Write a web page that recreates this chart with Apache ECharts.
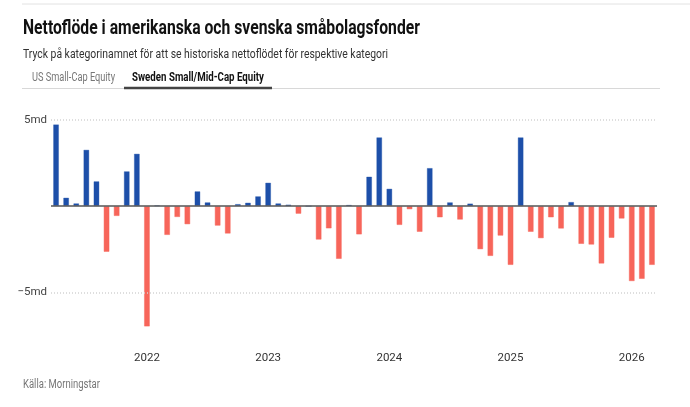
<!DOCTYPE html>
<html>
<head>
<meta charset="utf-8">
<script src="https://cdn.jsdelivr.net/npm/echarts@6/dist/echarts.min.js"></script>
<style>
  html, body { margin: 0; padding: 0; background: #fff; }
  #chart { width: 690px; height: 407px; }
</style>
</head>
<body>
<div id="chart"></div>
<script>
const FONT = 'Roboto, sans-serif'

// months Apr 2021 .. Mar 2026
const months = []
for (let y = 2021; y <= 2026; y++) {
  for (let m = 1; m <= 12; m++) {
    if ((y === 2021 && m < 4) || (y === 2026 && m > 3)) continue
    months.push(y + '-' + String(m).padStart(2, '0'))
  }
}

// net flow, billions SEK (md)
const netflow = [
  4.75, 0.5, 0.17, 3.28, 1.45, -2.66, -0.58, 2.03, 3.05,
  -6.99, 0.05, -1.68, -0.64, -1.06, 0.87, 0.23, -1.14, -1.6, 0.13, 0.21, 0.58,
  1.37, 0.17, 0.1, -0.45, 0, -1.95, -1.3, -3.07, 0.08, -1.65, 1.72, 4.0,
  1.02, -1.1, -0.19, -1.5, 2.22, -0.66, 0.23, -0.79, 0.16, -2.51, -2.9, -1.72,
  -3.42, 4.0, -1.5, -1.87, -0.66, -1.31, 0.25, -2.2, -2.24, -3.34, -1.85, -0.73,
  -4.36, -4.23, -3.42
]

const yearTicks = ['2022', '2023', '2024', '2025', '2026']
const yTicks = [5, -5]

const BLUE = '#1d4fa9'
const RED = '#f7655a'

// no condensed font installed, so squeeze text horizontally to the width it has in the original
const ctx = document.createElement('canvas').getContext('2d')
function squeezed(text, font, x, y, width, fill) {
  ctx.font = font
  const w = ctx.measureText(text).width
  return {
    type: 'text', x: x, y: y, scaleX: Math.min(1, width / w),
    style: { text: text, font: font, fill: fill, verticalAlign: 'middle' }
  }
}

const chart = echarts.init(document.getElementById('chart'))
chart.setOption({
  animation: false,
  graphic: [
    { type: 'line', shape: { x1: 22, y1: 4, x2: 690, y2: 4 }, style: { stroke: '#e2e2e2', lineWidth: 1 } },
    squeezed('Nettoflöde i amerikanska och svenska småbolagsfonder', 'bold 20px ' + FONT, 23, 28.5, 397, '#111'),
    squeezed('Tryck på kategorinamnet för att se historiska nettoflödet för respektive kategori', '13.5px ' + FONT, 23, 54.5, 365, '#333'),
    squeezed('US Small-Cap Equity', '12px ' + FONT, 32, 78, 83, '#777'),
    squeezed('Sweden Small/Mid-Cap Equity', 'bold 12px ' + FONT, 132, 78, 132, '#111'),
    { type: 'line', shape: { x1: 22, y1: 88.5, x2: 660, y2: 88.5 }, style: { stroke: '#d8d8d8', lineWidth: 1 } },
    { type: 'line', shape: { x1: 124, y1: 88, x2: 272, y2: 88 }, style: { stroke: '#444', lineWidth: 2.5 } },
    squeezed('Källa: Morningstar', '12px ' + FONT, 23, 385, 77, '#777')
  ],
  grid: { left: 51, right: 33, top: 120, bottom: 63 },
  xAxis: {
    type: 'category',
    data: months,
    axisLine: { show: false, onZero: false },
    axisTick: { show: false },
    axisLabel: {
      interval: (i, v) => yearTicks.includes(v.slice(0, 4)) && v.slice(5) === '01',
      formatter: v => v.slice(0, 4),
      color: '#333', fontFamily: FONT, fontSize: 11.5, margin: 8
    }
  },
  yAxis: {
    type: 'value',
    min: -8, max: 5, interval: 1,
    splitLine: { show: false },
    axisLine: { show: false },
    axisTick: { show: false },
    axisLabel: {
      margin: 4,
      formatter: v => yTicks.includes(v) ? (v < 0 ? '\u2212' + Math.abs(v) : v) + 'md' : '',
      color: '#444', fontFamily: FONT, fontSize: 11.5,
      verticalAlign: 'middle'
    }
  },
  series: [
    {
      type: 'bar',
      data: netflow.map(v => ({
        value: v,
        itemStyle: {
          color: v >= 0 ? BLUE : RED,
          borderColor: v >= 0 ? 'rgba(29,79,169,0.35)' : 'rgba(247,101,90,0.45)',
          borderWidth: 1
        }
      })),
      barWidth: 6,
      markLine: {
        silent: true,
        symbol: 'none',
        label: { show: false },
        data: [
          { yAxis: 5, lineStyle: { color: '#d4d4d4', type: [1, 2], width: 1.5 } },
          { yAxis: -5, lineStyle: { color: '#d4d4d4', type: [1, 2], width: 1.5 } },
          { yAxis: 0, lineStyle: { color: '#555', type: 'solid', width: 1.5 } }
        ]
      }
    }
  ]
})
</script>
</body>
</html>
